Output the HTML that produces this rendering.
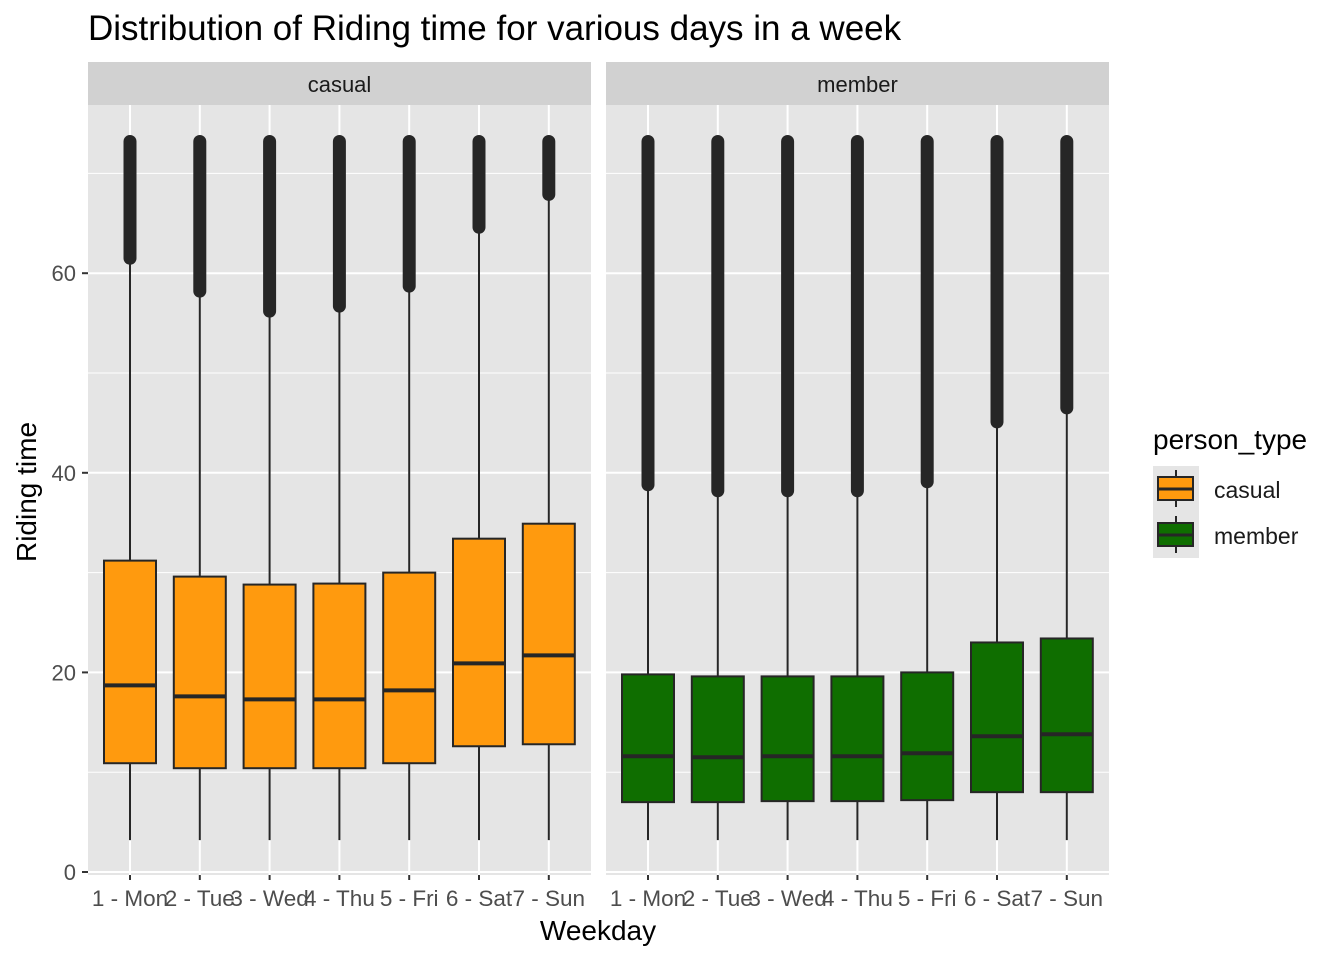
<!DOCTYPE html>
<html><head><meta charset="utf-8"><style>
body{margin:0;background:#fff;}
svg{display:block;font-family:"Liberation Sans",Arial,sans-serif;}
</style></head><body>
<svg id="chart" width="1344" height="960" xmlns="http://www.w3.org/2000/svg">
<text x="88" y="40" font-size="35" fill="#000">Distribution of Riding time for various days in a week</text>
<text x="598" y="940" font-size="28" text-anchor="middle" fill="#000">Weekday</text>
<text transform="translate(36,492) rotate(-90)" font-size="28" text-anchor="middle" fill="#000">Riding time</text>
<g>
<text x="1153" y="449" font-size="28" fill="#000">person_type</text>
<rect x="1153" y="466" width="46" height="92" fill="#e5e5e5"/>
<g>
<line x1="1176" y1="470" x2="1176" y2="507" stroke="#262626" stroke-width="2"/>
<rect x="1158" y="477" width="35" height="23" fill="#ff9a0e" stroke="#262626" stroke-width="2"/>
<line x1="1158" y1="489" x2="1193" y2="489" stroke="#262626" stroke-width="3"/>
<text x="1214" y="498" font-size="23" fill="#1a1a1a">casual</text></g>
<g>
<line x1="1176" y1="516" x2="1176" y2="553" stroke="#262626" stroke-width="2"/>
<rect x="1158" y="523" width="35" height="23" fill="#0f6e00" stroke="#262626" stroke-width="2"/>
<line x1="1158" y1="535" x2="1193" y2="535" stroke="#262626" stroke-width="3"/>
<text x="1214" y="544" font-size="23" fill="#1a1a1a">member</text></g>
</g>
<g id="plot"></g>
</svg>
<script>
const days=["1 - Mon","2 - Tue","3 - Wed","4 - Thu","5 - Fri","6 - Sat","7 - Sun"];
const panels=["casual","member"];
const casualQ1=[10.9,10.4,10.4,10.4,10.9,12.6,12.8];
const casualMed=[18.7,17.6,17.3,17.3,18.2,20.9,21.7];
const casualQ3=[31.2,29.6,28.8,28.9,30.0,33.4,34.9];
const casualWhiskHi=[61.5,58.2,56.2,56.7,58.7,64.6,67.9];
const casualWhiskLo=[3.2,3.2,3.2,3.2,3.2,3.2,3.2];
const casualMax=[73.2,73.2,73.2,73.2,73.2,73.2,73.2];
const memberQ1=[7.0,7.0,7.1,7.1,7.2,8.0,8.0];
const memberMed=[11.6,11.5,11.6,11.6,11.9,13.6,13.8];
const memberQ3=[19.8,19.6,19.6,19.6,20.0,23.0,23.4];
const memberWhiskHi=[38.8,38.2,38.2,38.2,39.1,45.1,46.5];
const memberWhiskLo=[3.2,3.2,3.2,3.2,3.2,3.2,3.2];
const memberMax=[73.2,73.2,73.2,73.2,73.2,73.2,73.2];
const yTicks=[0,20,40,60];
const yMinor=[10,30,50,70];

const NS="http://www.w3.org/2000/svg";
const plotG=document.getElementById('plot');
function mk(t,a,p){const e=document.createElementNS(NS,t);for(const k in a)e.setAttribute(k,a[k]);(p||plotG).appendChild(e);return e;}
const panelTop=105,panelBot=875;
function yS(v){return 872-v*9.98;}
const panelX=[88,606],pw=503;
function xS(pi,i){return panelX[pi]+42+i*69.8;}
const fills=["#ff9a0e","#0f6e00"];
const data=[[casualQ1,casualMed,casualQ3,casualWhiskHi,casualWhiskLo,casualMax],[memberQ1,memberMed,memberQ3,memberWhiskHi,memberWhiskLo,memberMax]];
panels.forEach((p,pi)=>{
  const px=panelX[pi];
  const pg=mk('g',{});
  
  
  mk('rect',{x:px,y:panelTop,width:pw,height:panelBot-panelTop,fill:'#e5e5e5'},pg);
  const strip=mk('rect',{x:px,y:62,width:pw,height:43,fill:'#d1d1d1'},pg);
  
  
  const st=mk('text',{x:px+pw/2,y:92,'font-size':22,'text-anchor':'middle',fill:'#1a1a1a'},pg);
  st.textContent=p;
  yMinor.forEach(v=>mk('line',{x1:px,x2:px+pw,y1:yS(v),y2:yS(v),stroke:'#fff','stroke-width':1},pg));
  yTicks.forEach(v=>mk('line',{x1:px,x2:px+pw,y1:yS(v),y2:yS(v),stroke:'#fff','stroke-width':2},pg));
  days.forEach((d,i)=>mk('line',{x1:xS(pi,i),x2:xS(pi,i),y1:panelTop,y2:panelBot,stroke:'#fff','stroke-width':2},pg));
  const [q1,md,q3,wh,wl,mx]=data[pi];
  days.forEach((d,i)=>{
    const cx=xS(pi,i);
    const b=mk('g',{},pg);
    
    
    mk('line',{x1:cx,x2:cx,y1:yS(mx[i]),y2:yS(wh[i]),stroke:'#262626','stroke-width':13,'stroke-linecap':'round'},b);
    mk('line',{x1:cx,x2:cx,y1:yS(wh[i]),y2:yS(wl[i]),stroke:'#262626','stroke-width':2},b);
    mk('rect',{x:cx-26,y:yS(q3[i]),width:52,height:yS(q1[i])-yS(q3[i]),fill:fills[pi],stroke:'#262626','stroke-width':2},b);
    mk('line',{x1:cx-26,x2:cx+26,y1:yS(md[i]),y2:yS(md[i]),stroke:'#262626','stroke-width':4},b);
    mk('line',{x1:cx,x2:cx,y1:panelBot,y2:panelBot+5,stroke:'#333','stroke-width':2},pg);
    const t=mk('text',{x:cx,y:906,'font-size':22.5,'text-anchor':'middle',fill:'#4d4d4d'},pg);
    
    
    t.textContent=d;
  });
});
yTicks.forEach(v=>{
  mk('line',{x1:82,x2:88,y1:yS(v),y2:yS(v),stroke:'#333','stroke-width':2});
  const t=mk('text',{x:76,y:yS(v)+8,'font-size':22,'text-anchor':'end',fill:'#4d4d4d'});
  
  
  t.textContent=v;
});
</script>
</body></html>
